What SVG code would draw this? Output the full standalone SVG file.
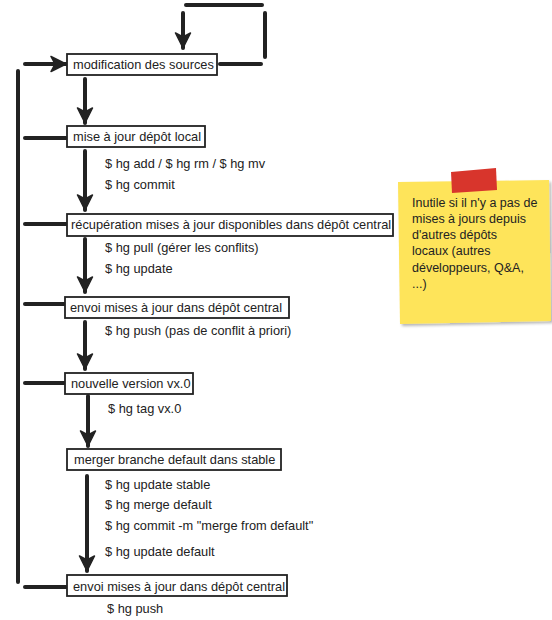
<svg xmlns="http://www.w3.org/2000/svg" width="552" height="620" viewBox="0 0 552 620">
<defs>
<marker id="ah" markerUnits="userSpaceOnUse" markerWidth="18" markerHeight="18" viewBox="0 0 18 18" refX="16" refY="9" orient="auto">
<path d="M1,1.5 L16,9 L1,16.5 L5,9 Z" fill="#222" stroke="#222" stroke-width="1.5" stroke-linejoin="round"/>
</marker>
<filter id="sh" x="-10%" y="-10%" width="120%" height="120%">
<feGaussianBlur in="SourceAlpha" stdDeviation="1.5"/>
<feOffset dx="1.5" dy="2" result="b"/>
<feComponentTransfer><feFuncA type="linear" slope="0.3"/></feComponentTransfer>
<feMerge><feMergeNode/><feMergeNode in="SourceGraphic"/></feMerge>
</filter>
</defs>
<style>
.box{fill:#fff;stroke:#222;stroke-width:1.8}
.t{font-family:"Liberation Sans",Arial,sans-serif;font-size:12.8px;fill:#222}
.c{stroke:#222;stroke-width:4;stroke-linecap:round;fill:none}
.n{font-family:"Liberation Sans",Arial,sans-serif;font-size:12.5px;fill:#222}
</style>
<rect width="552" height="620" fill="#fff"/>
<g id="connectors">
<line class="c" x1="220" y1="64" x2="261" y2="64"/>
<line class="c" x1="265" y1="13" x2="265" y2="57"/>
<line class="c" x1="186" y1="5" x2="262" y2="5"/>
<line class="c" x1="183" y1="13" x2="183" y2="48" marker-end="url(#ah)"/>
<line class="c" x1="18" y1="71" x2="18" y2="582"/>
<line class="c" x1="25" y1="64" x2="66" y2="64" marker-end="url(#ah)"/>
<line class="c" x1="25" y1="138" x2="66" y2="138"/>
<line class="c" x1="25" y1="224" x2="66" y2="224"/>
<line class="c" x1="25" y1="304" x2="64" y2="304"/>
<line class="c" x1="25" y1="383" x2="64" y2="383"/>
<line class="c" x1="25" y1="587" x2="66" y2="587"/>
<line class="c" x1="85" y1="79" x2="85" y2="123" marker-end="url(#ah)"/>
<line class="c" x1="85" y1="151" x2="85" y2="210" marker-end="url(#ah)"/>
<line class="c" x1="85" y1="239" x2="85" y2="292" marker-end="url(#ah)"/>
<line class="c" x1="85" y1="322" x2="85" y2="369" marker-end="url(#ah)"/>
<line class="c" x1="88" y1="396" x2="88" y2="446" marker-end="url(#ah)"/>
<line class="c" x1="87" y1="476" x2="87" y2="571" marker-end="url(#ah)"/>
</g>
<g id="n1"><rect class="box" x="67" y="54" width="150" height="21"/><text class="t" x="73" y="69">modification des sources</text></g>
<g id="n2"><rect class="box" x="67" y="126" width="138" height="21"/><text class="t" x="73" y="141">mise à jour dépôt local</text>
<text class="t" x="105" y="168">$ hg add / $ hg rm / $ hg mv</text>
<text class="t" x="105" y="189">$ hg commit</text></g>
<g id="n3"><rect class="box" x="67" y="214" width="326" height="22"/><text class="t" x="71" y="229">récupération mises à jour disponibles dans dépôt central</text>
<text class="t" x="105" y="252">$ hg pull (gérer les conflits)</text>
<text class="t" x="105" y="273">$ hg update</text></g>
<g id="n4"><rect class="box" x="65" y="297" width="224" height="21"/><text class="t" x="70" y="312">envoi mises à jour dans dépôt central</text>
<text class="t" x="105" y="335">$ hg push (pas de conflit à priori)</text></g>
<g id="n5"><rect class="box" x="65" y="373" width="128" height="21"/><text class="t" x="71" y="388">nouvelle version vx.0</text>
<text class="t" x="108" y="413">$ hg tag vx.0</text></g>
<g id="n6"><rect class="box" x="67" y="449" width="214" height="21"/><text class="t" x="74" y="464">merger branche default dans stable</text>
<text class="t" x="105" y="489">$ hg update stable</text>
<text class="t" x="105" y="509">$ hg merge default</text>
<text class="t" x="105" y="530">$ hg commit -m "merge from default"</text>
<text class="t" x="105" y="556">$ hg update default</text></g>
<g id="n7"><rect class="box" x="67" y="575" width="220" height="21"/><text class="t" x="73" y="591">envoi mises à jour dans dépôt central</text>
<text class="t" x="107" y="613">$ hg push</text></g>
<g id="note">
<polygon points="398,182 549,180 551,321 400,324" fill="#fee45a" filter="url(#sh)"/>
<polygon points="451,172 496,168 497,190 452,193" fill="#d8352c"/>
<text class="n" x="412" y="207">Inutile si il n'y a pas de</text>
<text class="n" x="412" y="223">mises à jours depuis</text>
<text class="n" x="412" y="239">d'autres dépôts</text>
<text class="n" x="412" y="255">locaux (autres</text>
<text class="n" x="412" y="272">développeurs, Q&amp;A,</text>
<text class="n" x="412" y="288">...)</text>
</g>
</svg>
